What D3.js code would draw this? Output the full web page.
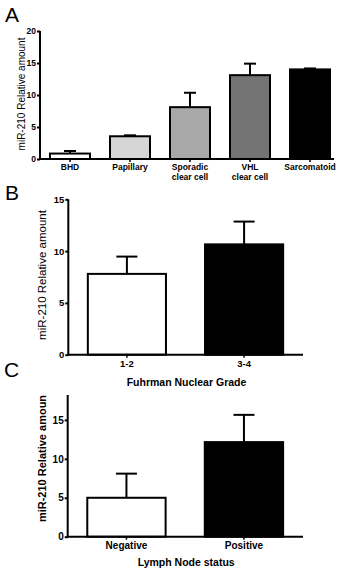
<!DOCTYPE html>
<html><head><meta charset="utf-8">
<script src="https://cdn.jsdelivr.net/npm/d3@7"></script>
<style>
html,body{margin:0;padding:0;background:#fff;}
svg{display:block;font-family:"Liberation Sans",Arial,sans-serif;}
</style></head>
<body>
<svg id="chart" width="345" height="575"></svg>
<script>
// ---- Data ----
const aCategories = [["BHD"], ["Papillary"], ["Sporadic", "clear cell"], ["VHL", "clear cell"], ["Sarcomatoid"]];
const aMeans  = [0.85, 3.55, 8.1, 13.1, 14.0];
const aErrors = [0.4, 0.15, 2.25, 1.8, 0.15];
const aTicks  = [0, 5, 10, 15, 20];

const bCategories = [["1-2"], ["3-4"]];
const bMeans  = [7.8, 10.65];
const bErrors = [1.67, 2.2];
const bTicks  = [0, 5, 10, 15];

const cCategories = [["Negative"], ["Positive"]];
const cMeans  = [5.0, 12.15];
const cErrors = [3.1, 3.5];
const cTicks  = [0, 5, 10, 15];

const aFills = ["#ffffff", "#d6d6d6", "#a8a8a8", "#747474", "#000000"];
const twoFills = ["#ffffff", "#000000"];

const svg = d3.select("#chart");

function panel(o) {
  const g = svg.append("g");
  const keys = o.cats.map((c, i) => i);
  const x = d3.scaleBand().domain(keys).range([o.x0, o.x1]).paddingInner(1/3).paddingOuter(1/6);
  const y = d3.scaleLinear().domain([0, o.ymax]).range([o.y0, o.y1]);

  // bars
  g.selectAll("rect.bar").data(o.means).join("rect")
    .attr("x", (d, i) => x(i))
    .attr("y", d => y(d))
    .attr("width", x.bandwidth())
    .attr("height", d => y(0) - y(d))
    .attr("fill", (d, i) => o.fills[i])
    .attr("stroke", "#000").attr("stroke-width", 2);

  // error bars (upper only)
  const capW = o.cap;
  o.means.forEach((m, i) => {
    const cx = x(i) + x.bandwidth() / 2;
    const top = y(m + o.errs[i]);
    g.append("line").attr("x1", cx).attr("x2", cx).attr("y1", y(m)).attr("y2", top)
      .attr("stroke", "#000").attr("stroke-width", 2);
    g.append("line").attr("x1", cx - capW / 2).attr("x2", cx + capW / 2).attr("y1", top).attr("y2", top)
      .attr("stroke", "#000").attr("stroke-width", 2);
  });

  // y axis
  const ya = g.append("g").attr("transform", `translate(${o.x0},0)`)
    .call(d3.axisLeft(y).tickValues(o.ticks).tickSize(3).tickPadding(1).tickSizeOuter(0));
  ya.select(".domain").remove();
  g.append("line").attr("x1", o.x0).attr("x2", o.x0).attr("y1", o.y0 + 1).attr("y2", o.y1)
    .attr("stroke", "#000").attr("stroke-width", 2);
  ya.selectAll(".tick line").attr("stroke", "#000").attr("stroke-width", 2);
  ya.selectAll(".tick text").attr("fill", "#000").attr("font-weight", "bold")
    .attr("font-size", o.tickFont).attr("font-family", "Liberation Sans, Arial, sans-serif");

  // x axis
  const xa = g.append("g").attr("transform", `translate(0,${o.y0})`)
    .call(d3.axisBottom(x).tickSize(3).tickSizeOuter(0).tickFormat(""));
  xa.select(".domain").remove();
  xa.selectAll(".tick line").attr("stroke", "#000").attr("stroke-width", 1.5);
  g.append("line").attr("x1", o.x0 - 1).attr("x2", o.xEnd).attr("y1", o.y0).attr("y2", o.y0)
    .attr("stroke", "#000").attr("stroke-width", 2);

  o.cats.forEach((lines, i) => {
    const cx = x(i) + x.bandwidth() / 2;
    const t = g.append("text").attr("text-anchor", "middle").attr("font-weight", "bold")
      .attr("font-size", o.xFont).attr("fill", "#000");
    lines.forEach((ln, j) => {
      t.append("tspan").attr("x", cx).attr("y", o.y0 + o.xLabOff + j * o.xLine).text(ln);
    });
  });

  // y title
  g.append("text").attr("transform", `translate(${o.ytX},${o.ytY}) rotate(-90)`)
    .attr("text-anchor", "middle").attr("dominant-baseline", "central")
    .attr("font-size", o.ytFont).attr("font-weight", o.ytWeight).attr("fill", "#000")
    .text(o.ytText);

  if (o.xTitle) {
    g.append("text").attr("x", (o.x0 + o.x1) / 2 + 1).attr("y", o.xtY)
      .attr("text-anchor", "middle").attr("font-weight", "bold")
      .attr("font-size", o.xtFont).attr("fill", "#000").text(o.xTitle);
  }

  // panel letter
  svg.append("text").attr("x", o.lx).attr("y", o.ly).attr("font-size", 21)
    .attr("fill", "#000").text(o.letter);
}

panel({
  cats: aCategories, means: aMeans, errs: aErrors, ticks: aTicks, fills: aFills,
  x0: 40, x1: 340, xEnd: 334, y0: 159, y1: 31, ymax: 20, cap: 12,
  tickFont: 8.5, xFont: 8.5, xLabOff: 10.5, xLine: 10,
  ytText: "miR-210 Relative amount", ytX: 21, ytY: 94, ytFont: 10, ytWeight: "normal",
  letter: "A", lx: 5, ly: 22
});

panel({
  cats: bCategories, means: bMeans, errs: bErrors, ticks: bTicks, fills: twoFills,
  x0: 68.3, x1: 302.7, xEnd: 303, y0: 354.7, y1: 199.3, ymax: 15, cap: 21,
  tickFont: 9.5, xFont: 9.5, xLabOff: 12.5, xLine: 10,
  ytText: "miR-210 Relative amount", ytX: 42, ytY: 275, ytFont: 11.5, ytWeight: "normal",
  xTitle: "Fuhrman Nuclear Grade", xtY: 386, xtFont: 10.5,
  letter: "B", lx: 5, ly: 200
});

panel({
  cats: cCategories, means: cMeans, errs: cErrors, ticks: cTicks, fills: twoFills,
  x0: 67.7, x1: 302.7, xEnd: 303, y0: 536.7, y1: 395, ymax: 18.2, cap: 21,
  tickFont: 10, xFont: 10, xLabOff: 12.5, xLine: 10,
  ytText: "miR-210 Relative amoun", ytX: 42, ytY: 458.5, ytFont: 11, ytWeight: "bold",
  xTitle: "Lymph Node status", xtY: 566, xtFont: 10.5,
  letter: "C", lx: 4, ly: 377
});
</script>
</body></html>
